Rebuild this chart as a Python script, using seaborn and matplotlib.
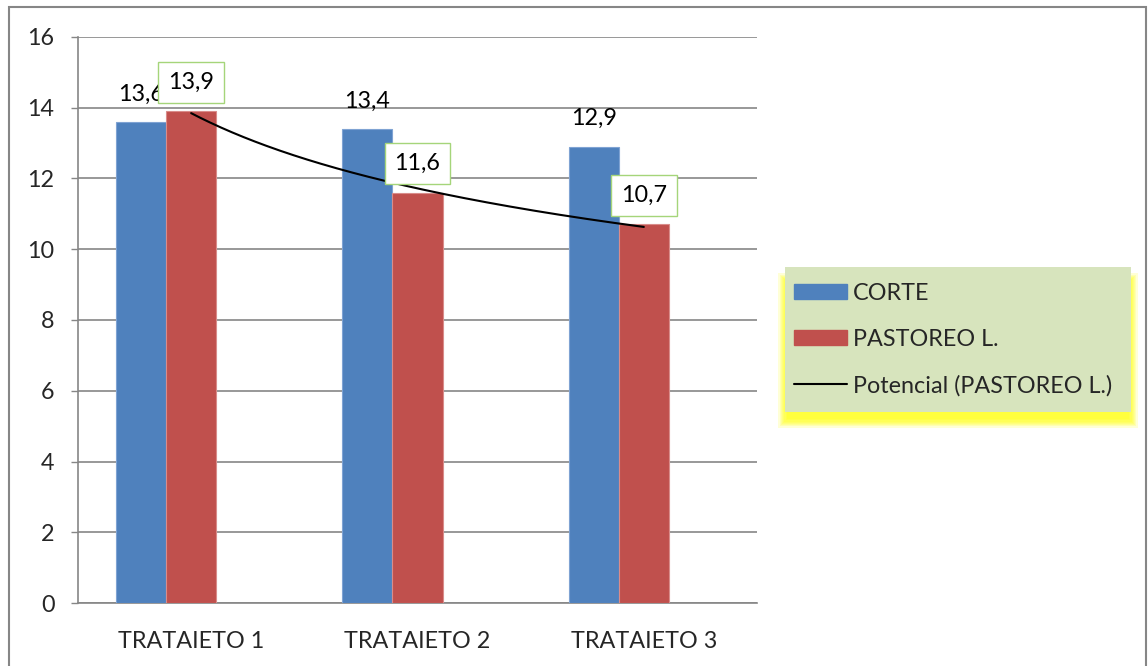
import numpy as np
import pandas as pd
import matplotlib
matplotlib.use("Agg")
import matplotlib.pyplot as plt
import seaborn as sns
from matplotlib.patches import Patch, Rectangle
from matplotlib.lines import Line2D

categories = ["TRATAIETO 1", "TRATAIETO 2", "TRATAIETO 3"]
corte = [13.6, 13.4, 12.9]
pastoreo = [13.9, 11.6, 10.7]
blank = [0.0, 0.0, 0.0]          # empty third series slot (as in the original chart)
series_names = ["CORTE", "PASTOREO L.", " "]
trend_name = "Potencial (PASTOREO L.)"
y_ticks = [0, 2, 4, 6, 8, 10, 12, 14, 16]

sns.set_style("white")
FONT = ["Lato", "DejaVu Sans"]
plt.rcParams["font.family"] = FONT

BLUE = "#4F81BD"
RED = "#C0504D"
GRID = "#868686"

df = pd.DataFrame({
    "cat": categories * 3,
    "val": corte + pastoreo + blank,
    "serie": [series_names[0]] * 3 + [series_names[1]] * 3 + [series_names[2]] * 3,
})

fig = plt.figure(figsize=(11.48, 6.66), dpi=100)
ax = fig.add_axes([78 / 1148, 1 - 603 / 666, (757 - 78) / 1148, (603 - 37) / 666])

sns.barplot(data=df, x="cat", y="val", hue="serie", hue_order=series_names,
            palette=[BLUE, RED, "white"], width=0.664, ax=ax, legend=False,
            saturation=1, zorder=3, edgecolor="none")
for cont, ec in zip(ax.containers[:2], ["#7FA3D3", "#D98C8A"]):
    for b in cont:
        b.set_edgecolor(ec)
        b.set_linewidth(0.8)
for b in ax.containers[2]:
    b.set_visible(False)

# power trendline fitted to PASTOREO L.
xi = np.arange(1, len(pastoreo) + 1)
b_, ln_a = np.polyfit(np.log(xi), np.log(pastoreo), 1)
xs = np.linspace(1, len(pastoreo), 200)
ax.plot(xs - 1, np.exp(ln_a) * xs ** b_, color="black", lw=1.5, zorder=5)

FS = 16.8
# data labels
for b, v in zip(ax.containers[0], corte):
    ax.annotate(f"{v:.1f}".replace(".", ","), (b.get_x() + b.get_width() / 2, b.get_height()),
                xytext=(0, 28), textcoords="offset pixels", ha="center", va="center",
                fontsize=FS, color="black", zorder=6)
for b, v in zip(ax.containers[1], pastoreo):
    ax.annotate(f"{v:.1f}".replace(".", ","), (b.get_x() + b.get_width() / 2, b.get_height()),
                xytext=(0, 29), textcoords="offset pixels", ha="center", va="center",
                fontsize=FS, color="black", zorder=7,
                bbox=dict(boxstyle="square,pad=0.42", fc="white", ec="#A5D57A", lw=1.0))

ax.set_ylim(0, 16)
ax.set_xlim(-0.5, 2.5)
ax.set_yticks(y_ticks)
ax.set_yticklabels([str(t) for t in y_ticks], fontsize=FS)
ax.set_xticks(range(3))
ax.set_xticklabels(categories, fontsize=FS)
ax.set_xticks([-0.5, 0.5, 1.5, 2.5], minor=True)
ax.tick_params(axis="x", which="major", length=0, pad=20)
ax.tick_params(axis="x", which="minor", length=5, width=1, color=GRID, direction="out")
ax.tick_params(axis="y", length=5, width=1, color=GRID, direction="out", pad=12, left=True)
ax.set_xlabel("")
ax.set_ylabel("")
ax.yaxis.grid(True, color=GRID, lw=1.2, zorder=0)
ax.set_axisbelow(True)
for s in ["top", "right"]:
    ax.spines[s].set_visible(False)
for s in ["left", "bottom"]:
    ax.spines[s].set_color(GRID)
    ax.spines[s].set_linewidth(1.2)

# legend background with soft yellow glow
lx0, lx1 = 785 / 1148, 1131 / 1148
ly0, ly1 = 1 - 412 / 666, 1 - 267 / 666
n = 8
for i in range(n):
    d = (n - i) * 1.2
    fig.patches.append(Rectangle((lx0 + 3 / 1148 - d / 1148, ly0 - 6 / 666 - d / 666),
                                 lx1 - lx0 - 6 / 1148 + 2 * d / 1148, ly1 - ly0 - 10 / 666 + 2 * d / 666,
                                 transform=fig.transFigure, fc="#FFFF00", ec="none",
                                 alpha=0.16, zorder=1))
fig.patches.append(Rectangle((lx0, ly0), lx1 - lx0, ly1 - ly0, transform=fig.transFigure,
                             fc="#D7E4BD", ec="none", zorder=2))
handles = [Patch(color=BLUE), Patch(color=RED), Line2D([], [], color="black", lw=1.5)]
leg = fig.legend(handles, series_names[:2] + [trend_name], loc="center left",
                 bbox_to_anchor=(799 / 1148 - 0.004, (ly0 + ly1) / 2), frameon=False,
                 fontsize=FS, handlelength=2.25, handleheight=0.65, handletextpad=0.25,
                 labelspacing=1.07, borderpad=0, borderaxespad=0)
leg.set_zorder(3)

# outer chart border
fig.patches.append(Rectangle((9 / 1148, -0.01), (1146 - 9) / 1148, 1 - 7 / 666 + 0.01,
                             transform=fig.transFigure, fc="none", ec=GRID, lw=1.5, zorder=10))

fig.savefig("out.png", dpi=100)
